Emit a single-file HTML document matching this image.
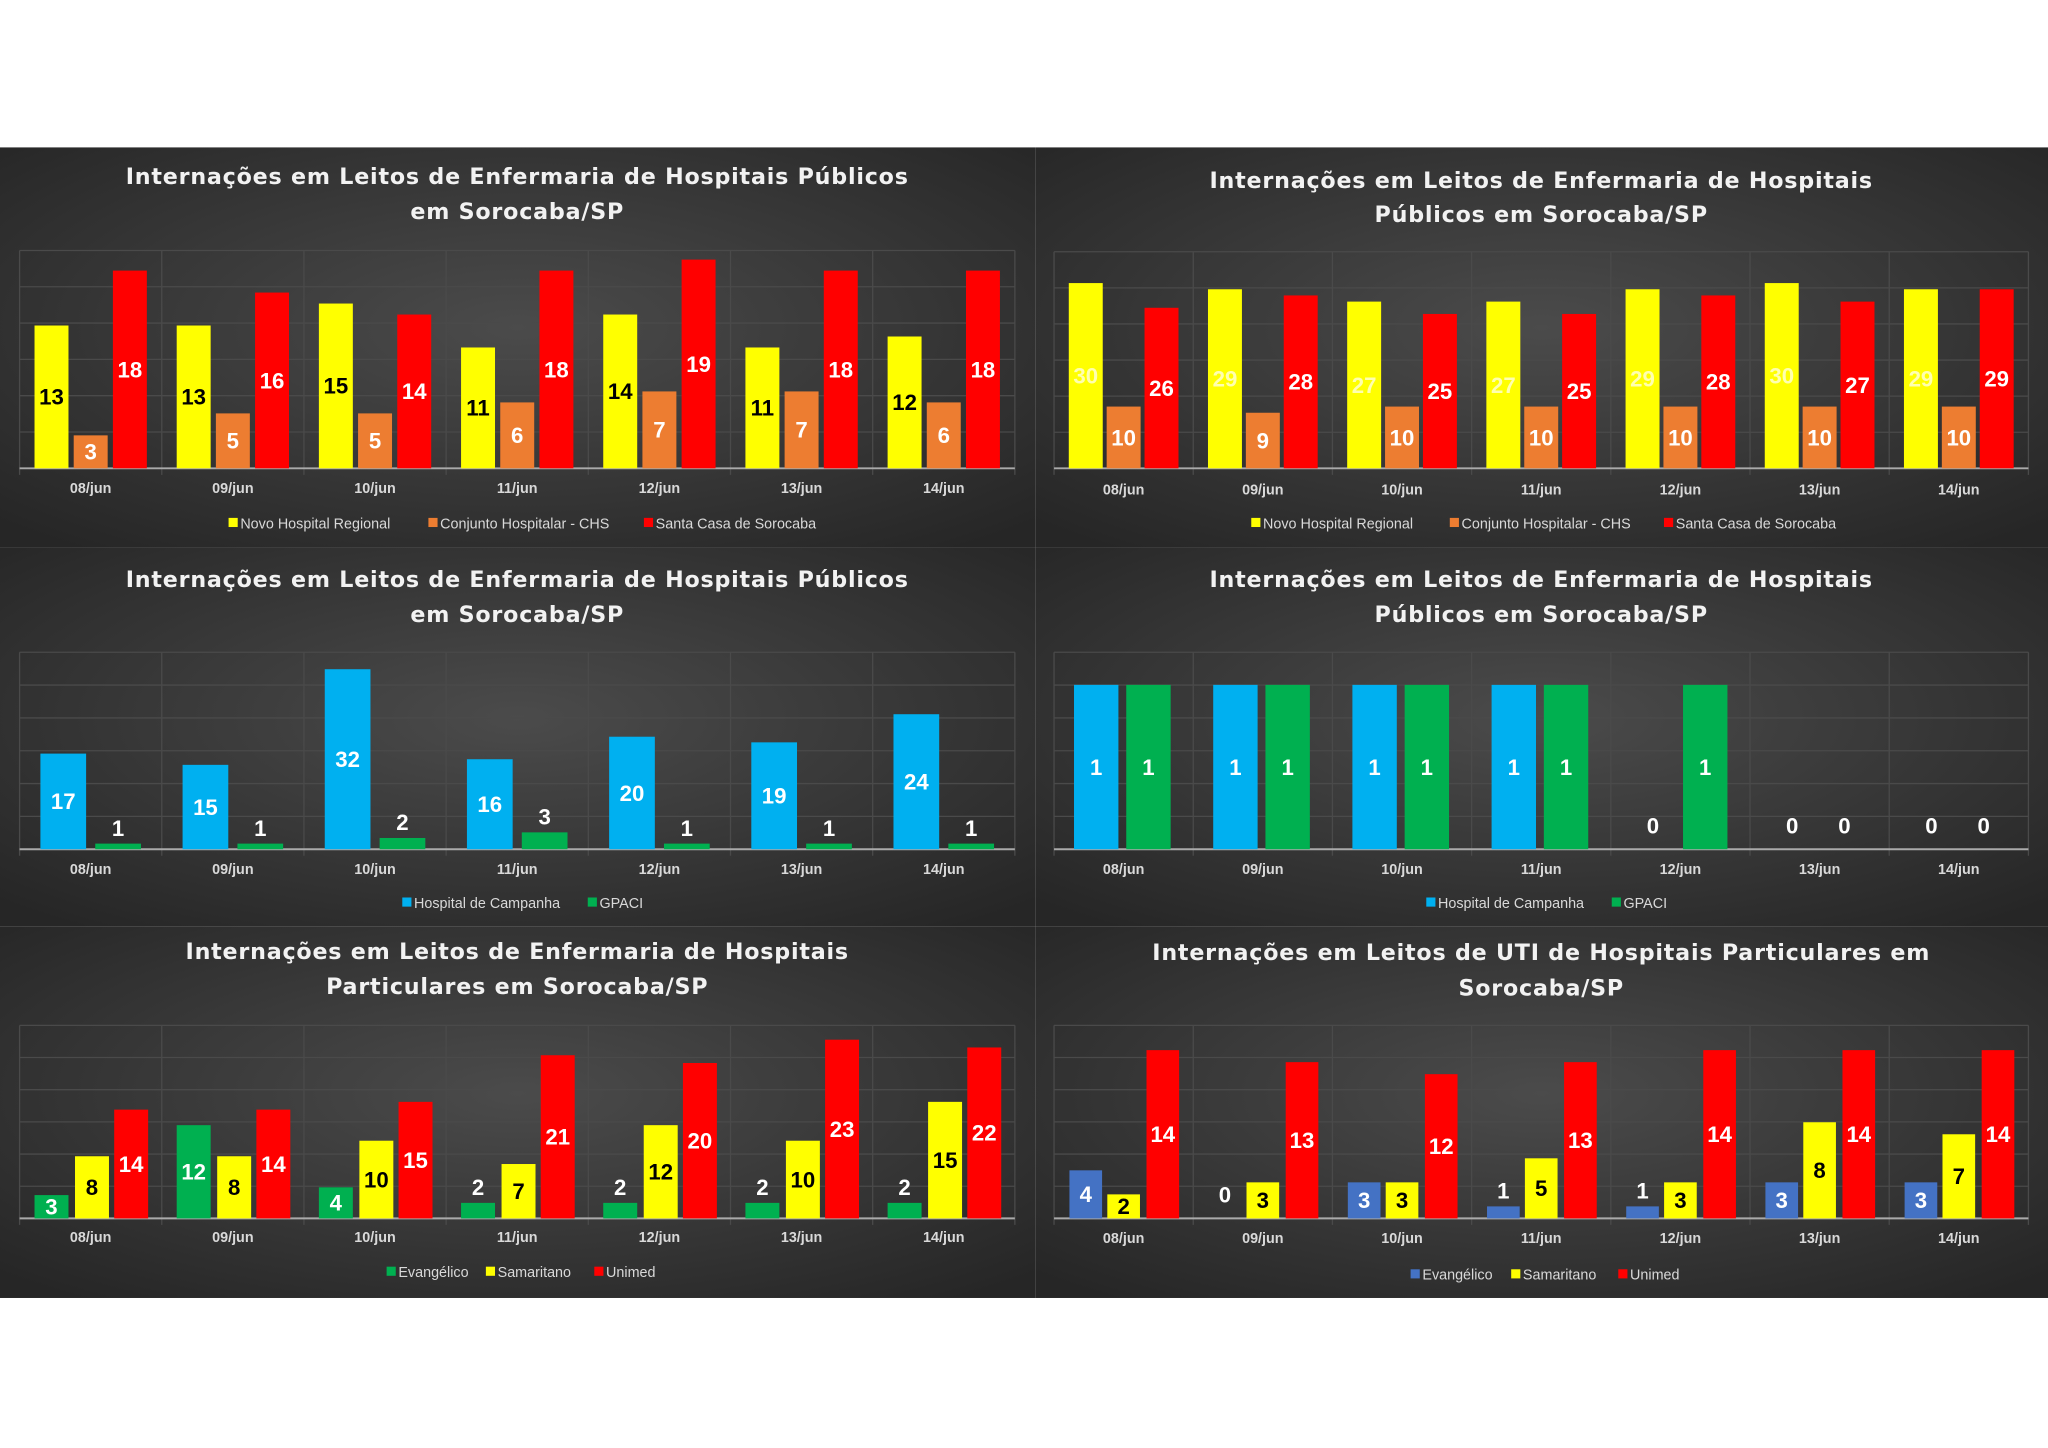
<!DOCTYPE html>
<html><head><meta charset="utf-8"><style>
html,body{margin:0;padding:0;background:#fff;width:2048px;height:1448px;overflow:hidden}
svg{display:block}
</style></head><body>
<svg id="root" width="2048" height="1448" viewBox="0 0 1568 1110" preserveAspectRatio="none" xmlns="http://www.w3.org/2000/svg">
<defs>
<radialGradient id="bg" cx="50%" cy="45%" r="70%"><stop offset="0" stop-color="#4b4b4b"/><stop offset="1" stop-color="#262626"/></radialGradient>
</defs>
<rect x="0" y="0" width="1568" height="1110" fill="#fff"/>
<g id="charts"></g>
</svg>
<script>
const categories = ["08/jun","09/jun","10/jun","11/jun","12/jun","13/jun","14/jun"];
const p1Novo = [13,13,15,11,14,11,12];
const p1Chs = [3,5,5,6,7,7,6];
const p1Santa = [18,16,14,18,19,18,18];
const p2Novo = [30,29,27,27,29,30,29];
const p2Chs = [10,9,10,10,10,10,10];
const p2Santa = [26,28,25,25,28,27,29];
const p3Campanha = [17,15,32,16,20,19,24];
const p3Gpaci = [1,1,2,3,1,1,1];
const p4Campanha = [1,1,1,1,0,0,0];
const p4Gpaci = [1,1,1,1,1,0,0];
const p5Evangelico = [3,12,4,2,2,2,2];
const p5Samaritano = [8,8,10,7,12,10,15];
const p5Unimed = [14,14,15,21,20,23,22];
const p6Evangelico = [4,0,3,1,1,3,3];
const p6Samaritano = [2,3,3,5,3,8,7];
const p6Unimed = [14,13,12,13,14,14,14];

const NS = "http://www.w3.org/2000/svg";
const root = document.getElementById('charts');
function mk(tag, attrs, parent){const e=document.createElementNS(NS,tag);for(const k in attrs)e.setAttribute(k,attrs[k]);parent.appendChild(e);return e;}

const panels = [
 {name:'public-ward-chart-1',x:0,y:113,w:793,h:307,title:["Internações em Leitos de Enfermaria de Hospitais Públicos","em Sorocaba/SP"],ty:[135,162],px0:15,px1:777,top:192,base:359,max:19,maxY:199,labY:374,legY:401,bw:26,offs:[-30,0,30],
  series:[{n:'Novo Hospital Regional',c:'#ffff00',t:'#000',d:p1Novo},{n:'Conjunto Hospitalar - CHS',c:'#ed7d31',t:'#fff',d:p1Chs},{n:'Santa Casa de Sorocaba',c:'#ff0000',t:'#fff',d:p1Santa}],legX:[175,328,493]},
 {name:'public-ward-chart-2',x:793,y:113,w:775,h:307,title:["Internações em Leitos de Enfermaria de Hospitais","Públicos em Sorocaba/SP"],ty:[138,164],px0:807,px1:1553,top:193,base:359,max:30,maxY:217,labY:375,legY:401,bw:26,offs:[-29,0,29],
  series:[{n:'Novo Hospital Regional',c:'#ffff00',t:'#ffffb0',d:p2Novo},{n:'Conjunto Hospitalar - CHS',c:'#ed7d31',t:'#fff',d:p2Chs},{n:'Santa Casa de Sorocaba',c:'#ff0000',t:'#fff',d:p2Santa}],legX:[958,1110,1274]},
 {name:'public-ward-chart-3',x:0,y:420,w:793,h:290,title:["Internações em Leitos de Enfermaria de Hospitais Públicos","em Sorocaba/SP"],ty:[444,471],px0:15,px1:777,top:500,base:651,max:32,maxY:513,labY:666,legY:692,bw:35,offs:[-21,21],
  series:[{n:'Hospital de Campanha',c:'#00b0f0',t:'#fff',d:p3Campanha},{n:'GPACI',c:'#00b050',t:'#fff',d:p3Gpaci}],legX:[308,450]},
 {name:'public-ward-chart-4',x:793,y:420,w:775,h:290,title:["Internações em Leitos de Enfermaria de Hospitais","Públicos em Sorocaba/SP"],ty:[444,471],px0:807,px1:1553,top:500,base:651,max:1,maxY:525,labY:666,legY:692,bw:34,offs:[-21,19],
  series:[{n:'Hospital de Campanha',c:'#00b0f0',t:'#fff',d:p4Campanha},{n:'GPACI',c:'#00b050',t:'#fff',d:p4Gpaci}],legX:[1092,1234]},
 {name:'private-ward-chart',x:0,y:710,w:793,h:285,title:["Internações em Leitos de Enfermaria de Hospitais","Particulares em Sorocaba/SP"],ty:[729,756],px0:15,px1:777,top:786,base:934,max:23,maxY:797,labY:948,legY:975,bw:26,offs:[-30,1,31],
  series:[{n:'Evangélico',c:'#00b050',t:'#fff',d:p5Evangelico},{n:'Samaritano',c:'#ffff00',t:'#000',d:p5Samaritano},{n:'Unimed',c:'#ff0000',t:'#fff',d:p5Unimed}],legX:[296,372,455]},
 {name:'private-icu-chart',x:793,y:710,w:775,h:285,title:["Internações em Leitos de UTI de Hospitais Particulares em","Sorocaba/SP"],ty:[730,757],px0:807,px1:1553,top:786,base:934,max:14,maxY:805,labY:949,legY:977,bw:25,offs:[-29,0,30],
  series:[{n:'Evangélico',c:'#4472c4',t:'#fff',d:p6Evangelico},{n:'Samaritano',c:'#ffff00',t:'#000',d:p6Samaritano},{n:'Unimed',c:'#ff0000',t:'#fff',d:p6Unimed}],legX:[1080,1157,1239]}
];

panels.forEach(p=>{
  const g=mk('g',{},root);
  
  
  const bgR=mk('rect',{x:p.x,y:p.y,width:p.w,height:p.h,fill:'url(#bg)'},g);
  
  
  p.title.forEach((t,i)=>{
    const te=mk('text',{x:(p.px0+p.px1)/2,y:p.ty[i]+6,'text-anchor':'middle',fill:'#f2f2f2','font-family':'DejaVu Sans, Liberation Sans, sans-serif','font-weight':'bold','font-size':'17','letter-spacing':'0.6'},g);
    te.textContent=t;
    
    
  });
  const n=categories.length, cw=(p.px1-p.px0)/n;
  const yS=v=>p.base-(p.base-p.maxY)*v/p.max;
  for(let k=0;k<=6;k++){
    const gy=p.top+(p.base-p.top)*k/6;
    const gl=mk('line',{x1:p.px0,x2:p.px1,y1:gy,y2:gy,stroke:'#4a4a4a',"stroke-width":1},g);
    
    
  }
  for(let i=0;i<=n;i++){
    const vl=mk('line',{x1:p.px0+cw*i,x2:p.px0+cw*i,y1:p.top,y2:p.base+5,stroke:'#4a4a4a',"stroke-width":1},g);
    
    
  }
  const ax=mk('line',{x1:p.px0,x2:p.px1,y1:p.base,y2:p.base,stroke:'#aaa',"stroke-width":1.5},g);
  
  
  categories.forEach((c,i)=>{
    const cx=p.px0+cw*(i+0.5);
    const tl=mk('text',{x:cx,y:p.labY+4,'text-anchor':'middle',fill:'#d9d9d9','font-family':'Liberation Sans Narrow, Liberation Sans, sans-serif','font-size':'11','font-weight':'bold'},g);
    tl.textContent=c;
    
    
    p.series.forEach((s,j)=>{
      const v=s.d[i], bx=cx+p.offs[j]-p.bw/2, top=yS(v);
      if(v>0){
        const r=mk('rect',{x:bx,y:top,width:p.bw,height:p.base-top,fill:s.c},g);
        
        
      }
      const h=p.base-top;
      const ly = v===0 ? p.base-18 : (h<16 ? top-12 : (top+p.base)/2);
      const lt=mk('text',{x:bx+p.bw/2,y:ly+6,'text-anchor':'middle',fill:(h<16 && s.t==='#000')?'#000':(h<16?'#fff':s.t),'font-family':'Liberation Sans, sans-serif','font-weight':'bold','font-size':'17'},g);
      lt.textContent=v;
      
      
    });
  });
  p.series.forEach((s,j)=>{
    const lx=p.legX[j];
    const sq=mk('rect',{x:lx,y:p.legY-4,width:7,height:7,fill:s.c},g);
    
    
    const lt=mk('text',{x:lx+9,y:p.legY+4,fill:'#d9d9d9','font-family':'Liberation Sans Narrow, Liberation Sans, sans-serif','font-size':'11'},g);
    lt.textContent=s.n;
    
    
  });
});
</script>
</body></html>
